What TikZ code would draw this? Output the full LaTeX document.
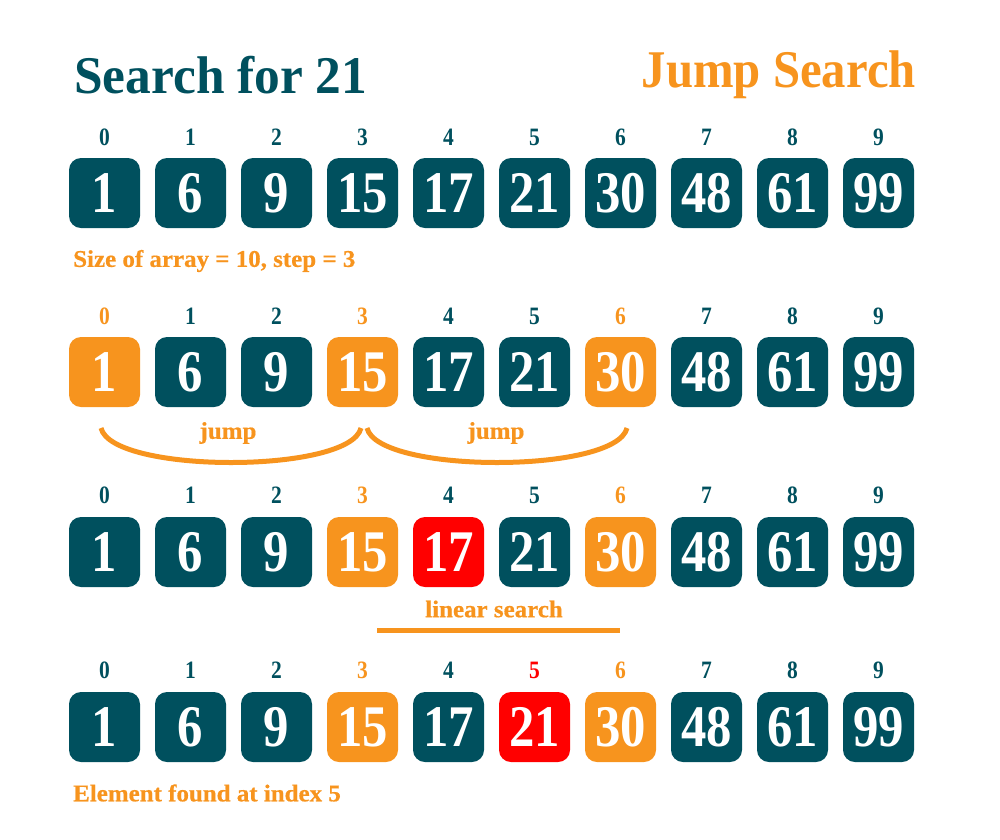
\documentclass[tikz,border=0pt]{standalone}
\usepackage{fontspec}
\newfontfamily\nf[FakeStretch=0.86]{Liberation Serif}
\newfontfamily\tf[FakeStretch=0.97]{Liberation Serif}
\newfontfamily\jf[FakeStretch=0.92]{Liberation Serif}
\newfontfamily\lf[FakeStretch=1.04,FakeBold=0.6]{Liberation Serif}
\definecolor{tl}{RGB}{0,80,94}
\definecolor{og}{RGB}{247,148,30}
\definecolor{rd}{RGB}{255,0,0}
\tikzset{
  cell/.style={rounded corners=12, minimum width=71, minimum height=70, inner sep=0, text=white, fill=#1, font=\nf\bfseries\fontsize{59}{59}\selectfont},
  idx/.style={text=#1, inner sep=0, font=\nf\bfseries\fontsize{25}{25}\selectfont},
  lbl/.style={text=og, inner sep=0, font=\lf\bfseries\fontsize{24}{24}\selectfont},
  ttl/.style={text=#1, inner sep=0, font=\tf\bfseries\fontsize{53}{53}\selectfont},
  ttlj/.style={text=og, inner sep=0, font=\jf\bfseries\fontsize{53}{53}\selectfont},
  bar/.style={draw=og, line width=5},
}
\begin{document}
\begin{tikzpicture}[x=1pt,y=-1pt]
\useasboundingbox (0,0) rectangle (1000,839);
\node[ttl=tl, anchor=west] (t1) at (74,75) {Search for 21};
\node[ttlj, anchor=east] (t2) at (916,75) {Jump Search};
% row 1
\foreach \v [count=\i from 0] in {1,6,9,15,17,21,30,48,61,99} {
  \node[idx=tl] (a\i) at (104.5+86*\i,137) {\i};
  \node[cell=tl] (A\i) at (104.5+86*\i,193) {\v};
}
\node[lbl, anchor=west] (s1) at (73,261) {Size of array = 10, step = 3};
% row 2
\foreach \v/\c [count=\i from 0] in {1/og,6/tl,9/tl,15/og,17/tl,21/tl,30/og,48/tl,61/tl,99/tl} {
  \node[idx=\c] (b\i) at (104.5+86*\i,316) {\i};
  \node[cell=\c] (B\i) at (104.5+86*\i,372) {\v};
}
\coordinate (j0) at (101,428);
\coordinate (j1) at (361,428);
\coordinate (j2) at (367,428);
\coordinate (j3) at (627,428);
\draw[bar] (j0) .. controls (112,474) and (350,474) .. (j1);
\draw[bar] (j2) .. controls (378,474) and (616,474) .. (j3);
\node[lbl] (jl1) at (228,433) {jump};
\node[lbl] (jl2) at (496,433) {jump};
% row 3
\foreach \v/\c/\d [count=\i from 0] in {1/tl/tl,6/tl/tl,9/tl/tl,15/og/og,17/rd/tl,21/tl/tl,30/og/og,48/tl/tl,61/tl/tl,99/tl/tl} {
  \node[idx=\d] (c\i) at (104.5+86*\i,495) {\i};
  \node[cell=\c] (C\i) at (104.5+86*\i,552) {\v};
}
\node[lbl] (ls) at (494,609) {linear search};
\coordinate (l0) at (377,630);
\coordinate (l1) at (620,630);
\draw[bar] (l0) -- (l1);
% row 4
\foreach \v/\c [count=\i from 0] in {1/tl,6/tl,9/tl,15/og,17/tl,21/rd,30/og,48/tl,61/tl,99/tl} {
  \node[idx=\c] (d\i) at (104.5+86*\i,670) {\i};
  \node[cell=\c] (D\i) at (104.5+86*\i,727) {\v};
}
\node[lbl, anchor=west] (s2) at (73,793) {Element found at index 5};
\end{tikzpicture}
\end{document}
